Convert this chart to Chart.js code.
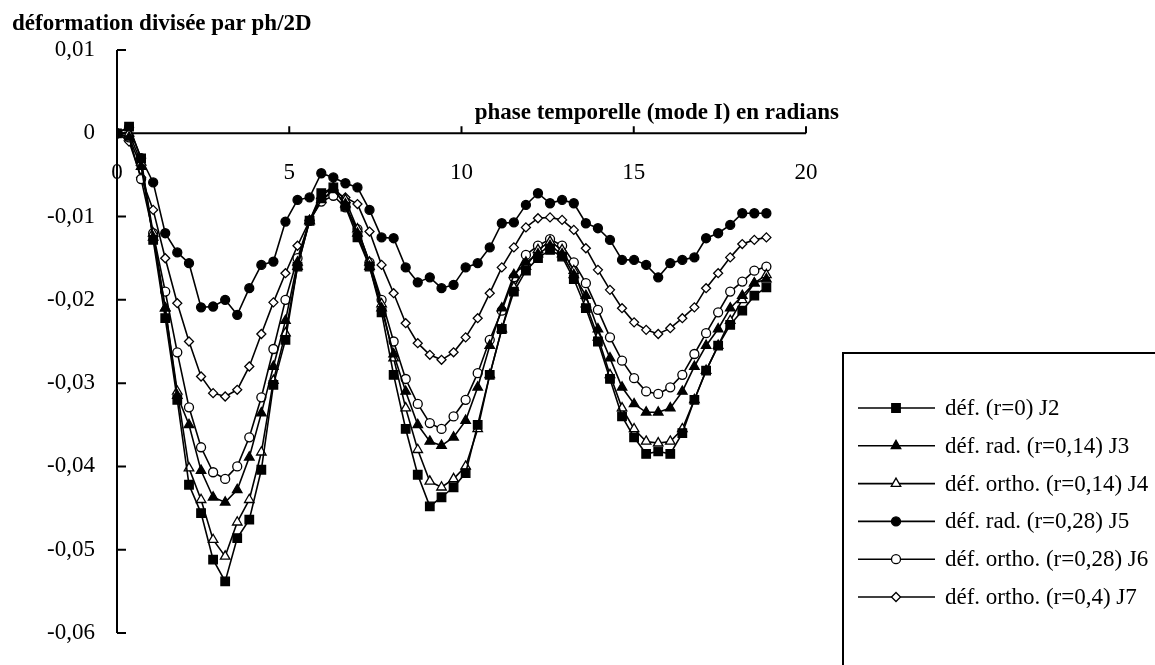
<!DOCTYPE html>
<html>
<head>
<meta charset="utf-8">
<script src="https://cdn.jsdelivr.net/npm/chart.js@4.4.0/dist/chart.umd.min.js"></script>
<style>
  body { margin: 0; background: #fff; }
</style>
</head>
<body>
<canvas id="myChart" width="1155" height="665"></canvas>
<script>
// phase (radians), one point every 20 degrees over three cycles
var phase = [0, 0.35, 0.70, 1.05, 1.40, 1.75, 2.09, 2.44, 2.79, 3.14, 3.49, 3.84, 4.19, 4.54,
    4.89, 5.24, 5.59, 5.93, 6.28, 6.63, 6.98, 7.33, 7.68, 8.03, 8.38, 8.73, 9.08, 9.42, 9.77,
    10.12, 10.47, 10.82, 11.17, 11.52, 11.87, 12.22, 12.57, 12.92, 13.26, 13.61, 13.96, 14.31,
    14.66, 15.01, 15.36, 15.71, 16.06, 16.41, 16.76, 17.10, 17.45, 17.80, 18.15, 18.50, 18.85];

var j2 = [0, 0.0008, -0.003, -0.0128, -0.0222, -0.032, -0.0422, -0.0456, -0.0512, -0.0538,
    -0.0486, -0.0464, -0.0404, -0.0302, -0.0248, -0.016, -0.0105, -0.0072, -0.0065, -0.0088,
    -0.0125, -0.016, -0.0215, -0.029, -0.0355, -0.041, -0.0448, -0.0437, -0.0425, -0.0408,
    -0.035, -0.029, -0.0235, -0.019, -0.0165, -0.015, -0.014, -0.0148, -0.0175, -0.021,
    -0.025, -0.0295, -0.034, -0.0365, -0.0385, -0.0382, -0.0385, -0.036, -0.032, -0.0285,
    -0.0255, -0.023, -0.0213, -0.0195, -0.0185];
var j3 = [0, -0.0005, -0.004, -0.0125, -0.021, -0.0315, -0.035, -0.0405, -0.0437, -0.0443,
    -0.0428, -0.0389, -0.0336, -0.028, -0.0225, -0.0155, -0.0105, -0.008, -0.0068, -0.0085,
    -0.012, -0.016, -0.021, -0.0265, -0.031, -0.035, -0.037, -0.0375, -0.0365, -0.0345,
    -0.0305, -0.0255, -0.021, -0.017, -0.0155, -0.0145, -0.0135, -0.0145, -0.017, -0.0195,
    -0.0235, -0.027, -0.0305, -0.0325, -0.0335, -0.0335, -0.033, -0.031, -0.028, -0.0255,
    -0.0235, -0.021, -0.0195, -0.018, -0.0175];
var j4 = [0, 0, -0.0035, -0.012, -0.021, -0.031, -0.0402, -0.044, -0.0488, -0.0508,
    -0.0467, -0.044, -0.0383, -0.0297, -0.024, -0.016, -0.0105, -0.0075, -0.0065, -0.008,
    -0.0115, -0.0155, -0.0205, -0.027, -0.033, -0.038, -0.0418, -0.0425, -0.0415, -0.040,
    -0.0355, -0.029, -0.0235, -0.0185, -0.016, -0.014, -0.013, -0.014, -0.0165, -0.0205,
    -0.0245, -0.029, -0.033, -0.0355, -0.037, -0.0372, -0.037, -0.0355, -0.032, -0.0285,
    -0.0255, -0.0225, -0.02, -0.018, -0.017];
var j5 = [0, 0.0007, -0.003, -0.0059, -0.012, -0.0143, -0.0156, -0.0209, -0.0208, -0.020,
    -0.0218, -0.0186, -0.0158, -0.0154, -0.0106, -0.008, -0.0077, -0.0048, -0.0053, -0.006,
    -0.0065, -0.0092, -0.0125, -0.0126, -0.0161, -0.0179, -0.0173, -0.0186, -0.0182, -0.0161,
    -0.0156, -0.0137, -0.0108, -0.0107, -0.0086, -0.0072, -0.0084, -0.008, -0.0084, -0.0108,
    -0.0114, -0.0128, -0.0152, -0.0152, -0.0158, -0.0173, -0.0156, -0.0152, -0.0149, -0.0126,
    -0.012, -0.011, -0.0096, -0.0096, -0.0096];
var j6 = [0, -0.0005, -0.0055, -0.012, -0.019, -0.0263, -0.0329, -0.0377, -0.0407, -0.0415,
    -0.040, -0.0365, -0.0317, -0.0259, -0.020, -0.015, -0.0105, -0.0082, -0.0075, -0.0089,
    -0.0115, -0.0155, -0.020, -0.025, -0.0295, -0.0325, -0.0348, -0.0355, -0.034, -0.032,
    -0.0288, -0.0248, -0.0213, -0.0173, -0.0146, -0.0135, -0.0127, -0.0135, -0.0155, -0.018,
    -0.0212, -0.0245, -0.0273, -0.0294, -0.031, -0.0313, -0.0305, -0.029, -0.0265, -0.024,
    -0.0215, -0.019, -0.0178, -0.0165, -0.016];
var j7 = [0, -0.001, -0.0053, -0.0092, -0.015, -0.0204, -0.025, -0.0292, -0.0312, -0.0316,
    -0.0308, -0.028, -0.0241, -0.0203, -0.0168, -0.0135, -0.0105, -0.008, -0.007, -0.0077,
    -0.0085, -0.0118, -0.0158, -0.0192, -0.0228, -0.0252, -0.0266, -0.0272, -0.0263, -0.0245,
    -0.0222, -0.0192, -0.0161, -0.0137, -0.0113, -0.0102, -0.0101, -0.0104, -0.0116, -0.0138,
    -0.0164, -0.0188, -0.021, -0.0227, -0.0236, -0.0241, -0.0234, -0.0222, -0.0209, -0.0186,
    -0.0168, -0.0149, -0.0133, -0.0128, -0.0125];

var seriesNames = ["déf. (r=0) J2", "déf. rad. (r=0,14) J3", "déf. ortho. (r=0,14) J4",
    "déf. rad. (r=0,28) J5", "déf. ortho. (r=0,28) J6", "déf. ortho. (r=0,4) J7"];

var yTicks = [0.01, 0, -0.01, -0.02, -0.03, -0.04, -0.05, -0.06];
var yTickLabels = ["0,01", "0", "-0,01", "-0,02", "-0,03", "-0,04", "-0,05", "-0,06"];
var xTicks = [0, 5, 10, 15, 20];
var xTickLabels = ["0", "5", "10", "15", "20"];

var yTitle = "déformation divisée par ph/2D";
var xTitle = "phase temporelle (mode I) en radians";

var serif = "'Liberation Serif', 'Times New Roman', serif";

function pts(arr) {
    return arr.map(function (v, i) { return { x: phase[i], y: v }; });
}

function makeSet(label, arr, style, filled, radius) {
    return {
        label: label,
        data: pts(arr),
        borderColor: '#000',
        borderWidth: 1.6,
        pointStyle: style,
        pointRadius: radius,
        pointBackgroundColor: filled ? '#000' : '#fff',
        pointBorderColor: '#000',
        pointBorderWidth: 1.3,
        tension: 0,
        fill: false
    };
}

// axes drawn by hand so they sit where the original put them
var axesPlugin = {
    id: 'axesPlugin',
    beforeDatasetsDraw: function (chart) {
        var ctx = chart.ctx, xs = chart.scales.x, ys = chart.scales.y;
        var x0 = xs.getPixelForValue(0), y0 = ys.getPixelForValue(0);
        ctx.save();
        ctx.strokeStyle = '#000';
        ctx.fillStyle = '#000';
        ctx.lineWidth = 2;

        // vertical axis + inward ticks
        ctx.beginPath();
        ctx.moveTo(x0, ys.getPixelForValue(yTicks[0]));
        ctx.lineTo(x0, ys.getPixelForValue(yTicks[yTicks.length - 1]));
        yTicks.forEach(function (t) {
            var py = ys.getPixelForValue(t);
            ctx.moveTo(x0, py);
            ctx.lineTo(x0 + 9, py);
        });
        ctx.stroke();

        // horizontal axis at y = 0, ticks pointing up
        ctx.beginPath();
        ctx.moveTo(x0, y0);
        ctx.lineTo(xs.getPixelForValue(xTicks[xTicks.length - 1]), y0);
        xTicks.forEach(function (t) {
            if (t === 0) return;
            var px = xs.getPixelForValue(t);
            ctx.moveTo(px, y0);
            ctx.lineTo(px, y0 - 7);
        });
        ctx.stroke();

        ctx.font = "23px " + serif;
        ctx.textBaseline = 'middle';
        ctx.textAlign = 'right';
        yTicks.forEach(function (t, i) {
            ctx.fillText(yTickLabels[i], x0 - 22, ys.getPixelForValue(t));
        });
        ctx.textAlign = 'center';
        xTicks.forEach(function (t, i) {
            ctx.fillText(xTickLabels[i], xs.getPixelForValue(t), y0 + 40);
        });

        ctx.font = "bold 23px " + serif;
        ctx.textAlign = 'left';
        ctx.fillText(yTitle, 12, 24);
        ctx.textAlign = 'right';
        ctx.fillText(xTitle, 839, 113);
        ctx.restore();
    },
    afterDraw: function (chart) {
        var ctx = chart.ctx;
        ctx.save();
        ctx.strokeStyle = '#000';
        ctx.lineWidth = 2;
        ctx.beginPath();
        ctx.moveTo(843, 665);
        ctx.lineTo(843, 353);
        ctx.lineTo(1155, 353);
        ctx.stroke();

        ctx.font = "23px " + serif;
        ctx.textAlign = 'left';
        ctx.textBaseline = 'middle';
        chart.data.datasets.forEach(function (ds, i) {
            var y = 408 + 37.8 * i;
            ctx.strokeStyle = '#000';
            ctx.lineWidth = 1.6;
            ctx.beginPath();
            ctx.moveTo(858, y);
            ctx.lineTo(935, y);
            ctx.stroke();
            ctx.fillStyle = ds.pointBackgroundColor;
            ctx.strokeStyle = '#000';
            ctx.lineWidth = ds.pointBorderWidth;
            Chart.helpers.drawPoint(ctx, {
                pointStyle: ds.pointStyle,
                radius: ds.pointRadius,
                rotation: 0,
                borderWidth: ds.pointBorderWidth
            }, 896, y);
            ctx.fillStyle = '#000';
            ctx.fillText(ds.label, 945, y + 1);
        });
        ctx.restore();
    }
};

new Chart("myChart", {
    type: "line",
    data: {
        datasets: [
            makeSet(seriesNames[0], j2, 'rect', true, 6),
            makeSet(seriesNames[1], j3, 'triangle', true, 5.5),
            makeSet(seriesNames[2], j4, 'triangle', false, 5.5),
            makeSet(seriesNames[3], j5, 'circle', true, 4.5),
            makeSet(seriesNames[4], j6, 'circle', false, 4.5),
            makeSet(seriesNames[5], j7, 'rectRot', false, 4.5)
        ]
    },
    options: {
        responsive: false,
        animation: false,
        devicePixelRatio: 1,
        layout: { autoPadding: false, padding: { left: 117, top: 50, right: 349, bottom: 32 } },
        scales: {
            x: { type: 'linear', min: 0, max: 20, display: false },
            y: { type: 'linear', min: -0.06, max: 0.01, display: false }
        },
        plugins: {
            legend: { display: false },
            tooltip: { enabled: false },
            title: { display: false }
        }
    },
    plugins: [axesPlugin]
});
</script>
</body>
</html>
